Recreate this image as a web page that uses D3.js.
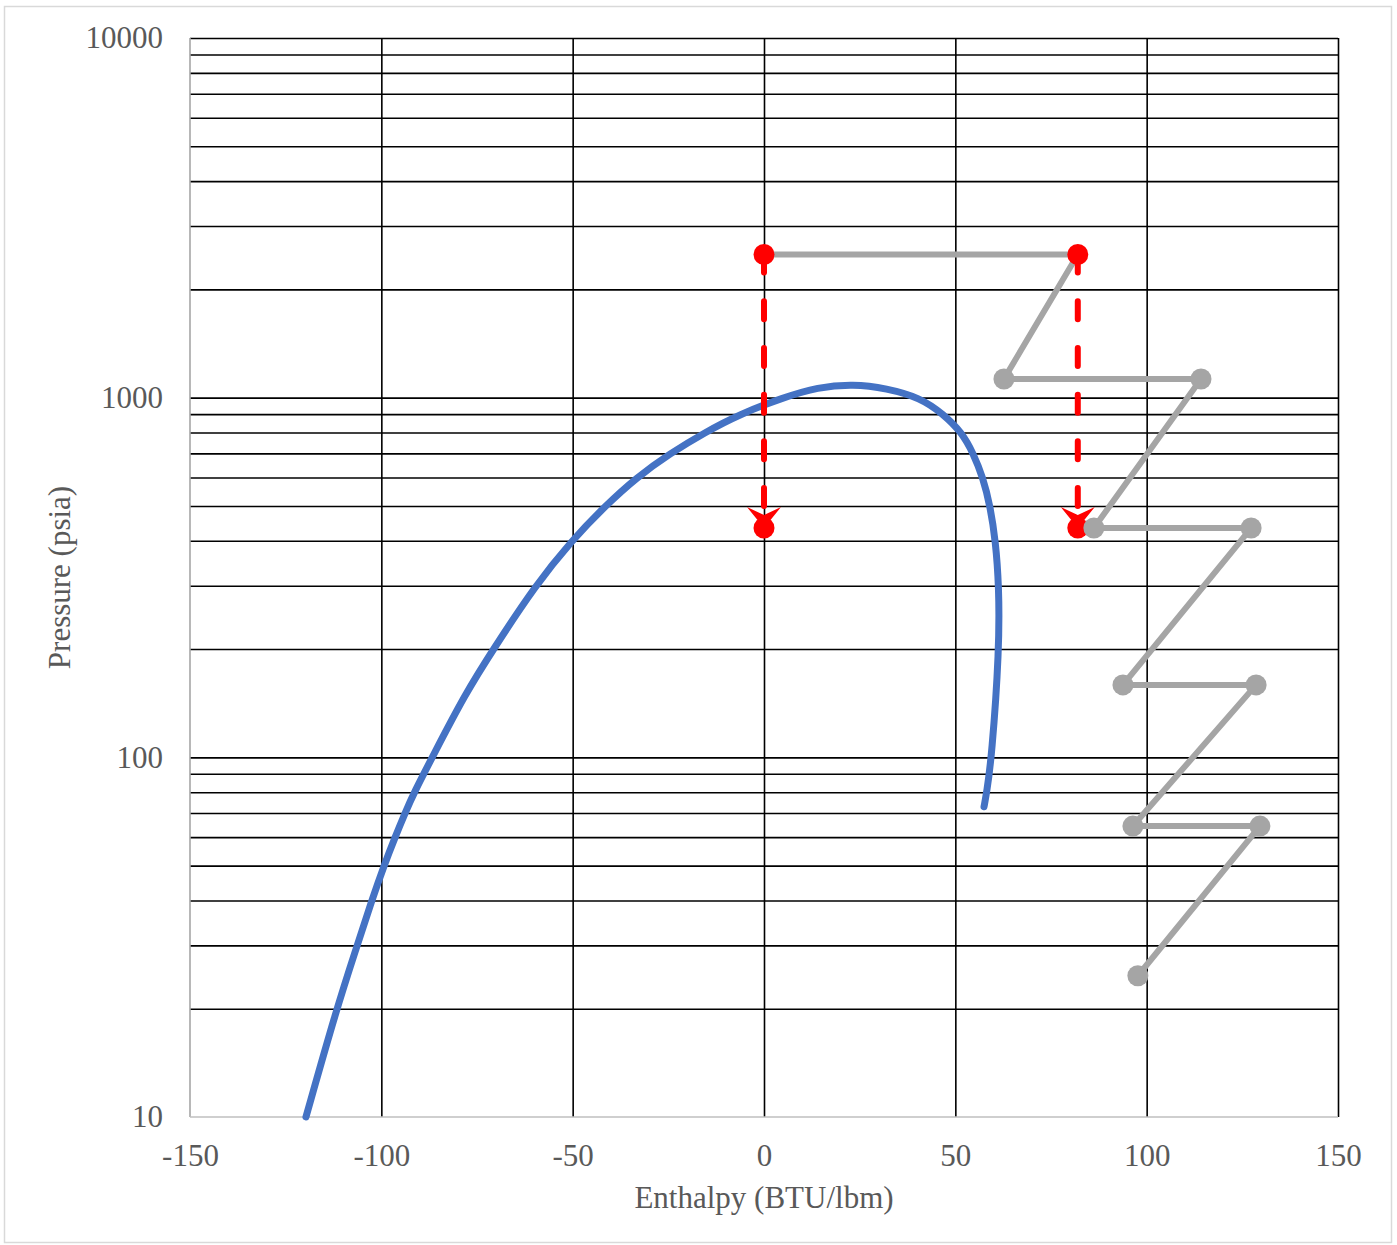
<!DOCTYPE html>
<html>
<head>
<meta charset="utf-8">
<script src="https://cdn.jsdelivr.net/npm/d3@7"></script>
<style>
  body { margin: 0; background: #fff; }
  text { font-family: "Liberation Serif", "Times New Roman", serif; fill: #595959; }
</style>
</head>
<body>
<svg width="1397" height="1245"></svg>
<script>
// saturation dome (enthalpy, pressure)
var domeH = [-119.7, -111.7, -106.3, -102.5, -99.3, -96.4, -93.8, -91.4, -86.7, -78.1, -70.7, -59.8, -50.3, -41.5, -33.3, -24.5, -15.5, -6.3, 5, 14, 23.3, 32, 40.8, 46.9, 51.7, 54.7, 57.2, 59.1, 60.5, 61.4, 61.5, 59.5, 58.2, 57.5];
var domeP = [10, 20, 30, 40, 50, 60, 70, 80, 100, 150, 200, 300, 400, 500, 600, 700, 800, 900, 1000, 1069, 1092, 1062, 1000, 900, 800, 700, 600, 500, 400, 300, 200, 100, 80, 72.9];

// compressor / intercooler path
var pathH = [0, 82, 62.7, 114.2, 86.2, 127.3, 93.8, 128.6, 96.4, 129.6, 97.7];
var pathP = [2500, 2500, 1127, 1127, 434, 434, 159, 159, 64.4, 64.4, 24.7];

// throttling arrows
var arrowH = [0, 82];
var arrowTop = 2500, arrowBottom = 434;

var xTicks = [-150, -100, -50, 0, 50, 100, 150];
var yTicks = [10, 100, 1000, 10000];

var svg = d3.select("svg"),
    margin = {top: 38, right: 59, bottom: 128, left: 190},
    width = +svg.attr("width") - margin.left - margin.right,
    height = +svg.attr("height") - margin.top - margin.bottom;

svg.append("rect")
    .attr("x", 4.5).attr("y", 6.5)
    .attr("width", 1387).attr("height", 1236)
    .attr("fill", "#fff").attr("stroke", "#d9d9d9").attr("stroke-width", 1.5);

var g = svg.append("g").attr("transform", "translate(" + margin.left + "," + margin.top + ")");

var x = d3.scaleLinear().domain([-150, 150]).range([0, width]);
var y = d3.scaleLog().domain([10, 10000]).range([height, 0]);

var defs = svg.append("defs");
defs.append("marker")
    .attr("id", "stealth")
    .attr("markerUnits", "userSpaceOnUse")
    .attr("viewBox", "-22 -18 24 36")
    .attr("markerWidth", 24).attr("markerHeight", 36)
    .attr("refX", 0).attr("refY", 0)
    .attr("orient", "auto")
    .append("path")
    .attr("d", "M0,0L-21,-17L-13,0L-21,17Z")
    .attr("fill", "#ff0000");

// horizontal grid: every minor log tick
var yGrid = [];
[10, 100, 1000].forEach(function (d) {
    for (var k = 1; k <= 9; k++) yGrid.push(d * k);
});
yGrid.push(10000);

g.append("g")
    .attr("class", "grid grid--y")
    .call(d3.axisLeft(y).tickValues(yGrid.slice(1)).tickSize(-width).tickFormat(""))
    .call(function (s) { s.select(".domain").remove(); })
    .selectAll("line").attr("stroke", "#000").attr("stroke-width", 1.6);

g.append("g")
    .attr("class", "grid grid--x")
    .attr("transform", "translate(0," + height + ")")
    .call(d3.axisBottom(x).tickValues(xTicks.slice(1)).tickSize(-height).tickFormat(""))
    .call(function (s) { s.select(".domain").remove(); })
    .selectAll("line").attr("stroke", "#000").attr("stroke-width", 1.6);

// axis lines
g.append("line").attr("x1", 0).attr("x2", 0).attr("y1", 0).attr("y2", height)
    .attr("stroke", "#a6a6a6").attr("stroke-width", 1.6);
g.append("line").attr("x1", 0).attr("x2", width).attr("y1", height).attr("y2", height)
    .attr("stroke", "#bfbfbf").attr("stroke-width", 1.6);

// tick labels (plain hyphen minus, like the original)
var xAxis = g.append("g")
    .attr("class", "axis axis--x")
    .attr("transform", "translate(0," + height + ")")
    .call(d3.axisBottom(x).tickValues(xTicks).tickSize(0).tickPadding(27)
        .tickFormat(function (d) { return String(d); }));
xAxis.select(".domain").remove();
xAxis.selectAll("text").style("font-size", "31px").attr("fill", "#595959");

var yAxis = g.append("g")
    .attr("class", "axis axis--y")
    .call(d3.axisLeft(y).tickValues(yTicks).tickSize(0).tickPadding(27)
        .tickFormat(function (d) { return String(d); }));
yAxis.select(".domain").remove();
yAxis.selectAll("text").style("font-size", "31px").attr("fill", "#595959");

// axis titles
svg.append("text")
    .attr("x", margin.left + width / 2).attr("y", 1208)
    .attr("text-anchor", "middle").style("font-size", "31px")
    .text("Enthalpy (BTU/lbm)");
svg.append("text")
    .attr("transform", "translate(70," + (margin.top + height / 2) + ") rotate(-90)")
    .attr("text-anchor", "middle").style("font-size", "31px")
    .text("Pressure (psia)");

// dome - b-spline to smooth out reading noise
var line = d3.line()
    .x(function (d) { return x(d[0]); })
    .y(function (d) { return y(d[1]); })
    .curve(d3.curveBasis);

var dome = domeH.map(function (h, i) { return [h, domeP[i]]; });
g.append("path")
    .datum(dome)
    .attr("d", line)
    .attr("fill", "none")
    .attr("stroke", "#4472c4")
    .attr("stroke-width", 7)
    .attr("stroke-linecap", "round");

// gray process path
var proc = pathH.map(function (h, i) { return [h, pathP[i]]; });
g.append("path")
    .datum(proc)
    .attr("d", d3.line().x(function (d) { return x(d[0]); }).y(function (d) { return y(d[1]); }))
    .attr("fill", "none")
    .attr("stroke", "#a5a5a5")
    .attr("stroke-width", 6)
    .attr("stroke-linejoin", "round");

// red dashed arrows
g.selectAll(".arrow")
    .data(arrowH)
    .enter().append("line")
    .attr("class", "arrow")
    .attr("x1", function (d) { return x(d); })
    .attr("x2", function (d) { return x(d); })
    .attr("y1", y(arrowTop))
    .attr("y2", y(arrowBottom))
    .attr("stroke", "#ff0000")
    .attr("stroke-width", 6)
    .attr("stroke-linecap", "round")
    .attr("stroke-dasharray", "18,28.7")
    .attr("marker-end", "url(#stealth)");

var redPts = [];
arrowH.forEach(function (h) { redPts.push([h, arrowTop]); redPts.push([h, arrowBottom]); });
g.selectAll(".redpt")
    .data(redPts)
    .enter().append("circle")
    .attr("class", "redpt")
    .attr("cx", function (d) { return x(d[0]); })
    .attr("cy", function (d) { return y(d[1]); })
    .attr("r", 10.5)
    .attr("fill", "#ff0000");

g.selectAll(".graypt")
    .data(proc.slice(2))
    .enter().append("circle")
    .attr("class", "graypt")
    .attr("cx", function (d) { return x(d[0]); })
    .attr("cy", function (d) { return y(d[1]); })
    .attr("r", 10.5)
    .attr("fill", "#a5a5a5");
</script>
</body>
</html>
